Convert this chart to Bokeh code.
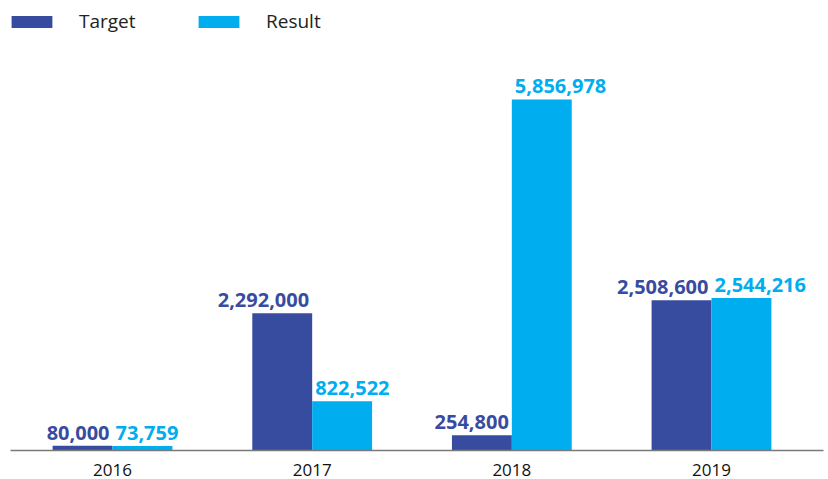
from bokeh.plotting import figure
from bokeh.models import ColumnDataSource, FixedTicker, Legend
from bokeh.core.properties import value
from bokeh.embed import file_html
from bokeh.resources import INLINE

years = ["2016", "2017", "2018", "2019"]
target = [80000, 2292000, 254800, 2508600]
result = [73759, 822522, 5856978, 2544216]

C_T = "#384C9F"
C_R = "#00ADEE"
FONT = "Open Sans"

idx = list(range(len(years)))
src = ColumnDataSource(dict(
    idx=idx,
    xt=[i - 0.15 for i in idx],
    xr=[i + 0.15 for i in idx],
    target=target,
    result=result,
    lt=[f"{v:,}" for v in target],
    lr=[f"{v:,}" for v in result],
))

p = figure(width=828, height=479, output_backend="svg", toolbar_location=None,
           x_range=(-0.511, 3.561), y_range=(0, 7425000),
           min_border_left=10, min_border_right=5, min_border_top=5, min_border_bottom=29)
p.outline_line_color = None
p.grid.visible = False
p.yaxis.visible = False

rt = p.vbar(x="xt", top="target", width=0.3, source=src, color=C_T, line_color=None)
rr = p.vbar(x="xr", top="result", width=0.3, source=src, color=C_R, line_color=None)

p.text(x="idx", y="target", text="lt", source=src, x_offset=-3, y_offset=-13,
       text_align="right", text_baseline="alphabetic", text_color=C_T,
       text_font=value(FONT), text_font_style="bold", text_font_size="20px")
p.text(x="idx", y="result", text="lr", source=src, x_offset=3, y_offset=-13,
       text_align="left", text_baseline="alphabetic", text_color=C_R,
       text_font=value(FONT), text_font_style="bold", text_font_size="20px")

ax = p.xaxis[0]
ax.ticker = FixedTicker(ticks=idx)
ax.major_label_overrides = {i: y for i, y in zip(idx, years)}
ax.major_tick_line_color = None
ax.minor_tick_line_color = None
ax.axis_line_color = "#7a7a7a"
ax.axis_line_width = 1.5
ax.major_label_standoff = 7
ax.major_label_text_font = FONT
ax.major_label_text_font_size = "17px"
ax.major_label_text_color = "#111111"

legend = Legend(items=[("Target", [rt]), ("Result", [rr])], location=(-4, 416),
                orientation="horizontal", glyph_width=51, glyph_height=15,
                label_standoff=22, label_width=100, spacing=14, margin=0, padding=0,
                border_line_color=None, background_fill_alpha=0,
                label_text_font=FONT, label_text_font_size="19px", label_text_color="#222222")
p.add_layout(legend)

open("out.html", "w").write(file_html(p, INLINE))
